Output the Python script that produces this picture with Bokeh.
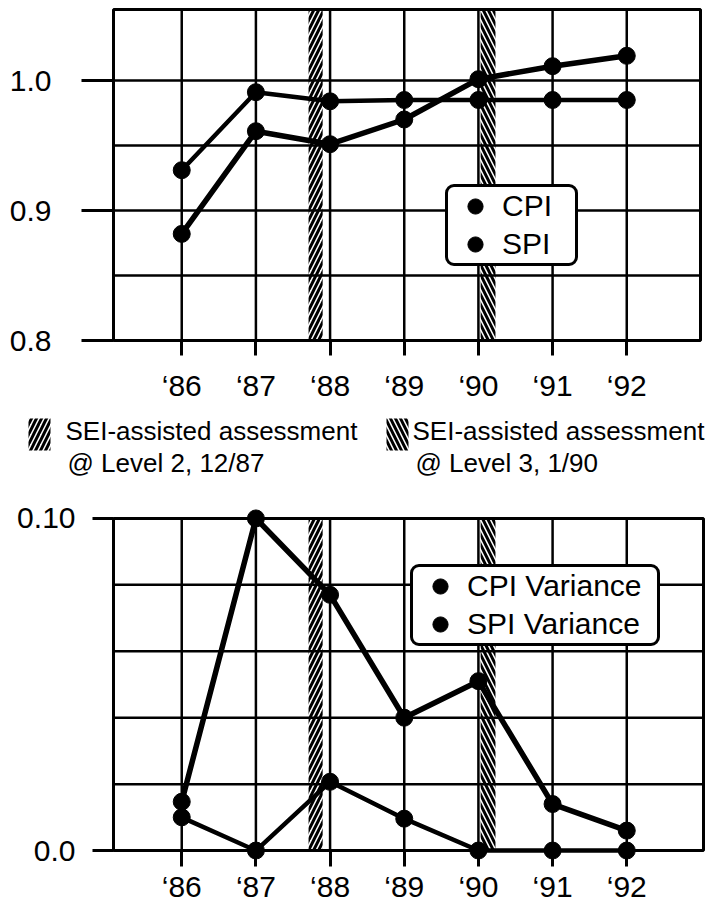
from bokeh.plotting import figure
from bokeh.models import Range1d, FixedTicker, Legend, LegendItem
from bokeh.layouts import column, row
from bokeh.embed import file_html
from bokeh.resources import INLINE
from bokeh.core.properties import value

# ---------------- data ----------------
years = [86, 87, 88, 89, 90, 91, 92]
year_labels = ["\u201886", "\u201887", "\u201888", "\u201889", "\u201890", "\u201891", "\u201892"]

cpi = [0.882, 0.961, 0.951, 0.970, 1.001, 1.011, 1.019]
spi = [0.931, 0.991, 0.984, 0.985, 0.985, 0.985, 0.985]

cpi_var = [0.0147, 0.100, 0.077, 0.040, 0.051, 0.014, 0.006]
spi_var = [0.010, 0.0, 0.0207, 0.0096, 0.0, 0.0, 0.0]

band_start = [87.71, 90.03]
band_end = [87.90, 90.23]
band_hatch = ["/", "\\"]
band_text_1 = ["SEI-assisted assessment", "SEI-assisted assessment"]
band_text_2 = ["@ Level 2, 12/87", "@ Level 3, 1/90"]

top_y_ticks = [0.8, 0.9, 1.0]
top_y_labels = ["0.8", "0.9", "1.0"]
top_grid_y = [0.85, 0.9, 0.95, 1.0]

bot_y_ticks = [0.0, 0.10]
bot_y_labels = ["0.0", "0.10"]
bot_grid_y = [0.02, 0.04, 0.06, 0.08]

FONT = "Liberation Sans"
W = 720
BORDER_L, BORDER_R = 109, 13          # shared by both charts (frames are aligned)
PX_PER_YEAR = 74.17
X_VIS_LO = 85.08
HATCH = dict(fill_color=None, line_color=None, hatch_color="black",
             hatch_weight=3, hatch_scale=10)


def set_if(obj, **kw):
    props = obj.properties()
    for k, v in kw.items():
        if k in props:
            setattr(obj, k, v)


def style_legend(lg, label_w):
    lg.label_text_font = FONT
    lg.label_text_font_size = "30px"
    lg.label_text_color = "black"
    lg.glyph_width = 54
    lg.glyph_height = 38
    lg.spacing = 0
    lg.padding = 0
    lg.margin = 0
    lg.label_standoff = 0
    lg.label_width = label_w
    lg.border_line_color = "black"
    lg.border_line_alpha = 1.0
    lg.border_line_width = 3
    lg.background_fill_color = "white"
    lg.background_fill_alpha = 1.0
    set_if(lg, border_radius=9)


def make_chart(height, b_top, b_bot, vis_w, vis_y, px_per_unit, pads,
               y_ticks, y_labels, grid_y, xt, yt, series, widths):
    """vis_w: visible frame width in px; pads: (left, right, top, bottom) px
    xt / yt: (tick_in, tick_out, standoff) for x and y axes."""
    pl, pr, pt, pb = pads
    vis_x = (X_VIS_LO, X_VIS_LO + vis_w / PX_PER_YEAR)
    real_w = W - BORDER_L - BORDER_R
    x0 = X_VIS_LO - pl / PX_PER_YEAR
    p = figure(width=W, height=height, output_backend="svg", toolbar_location=None,
               x_range=Range1d(x0, x0 + real_w / PX_PER_YEAR),
               y_range=Range1d(vis_y[0] - pb / px_per_unit, vis_y[1] + pt / px_per_unit),
               min_border_left=BORDER_L, min_border_right=BORDER_R,
               min_border_top=b_top, min_border_bottom=b_bot)
    p.outline_line_color = None
    p.background_fill_color = "white"
    p.border_fill_color = "white"
    p.grid.visible = False

    ax = p.xaxis[0]
    ax.ticker = FixedTicker(ticks=years)
    ax.major_label_overrides = {y: l for y, l in zip(years, year_labels)}
    ay = p.yaxis[0]
    ay.ticker = FixedTicker(ticks=y_ticks)
    ay.major_label_overrides = {t: l for t, l in zip(y_ticks, y_labels)}
    for a, (t_in, t_out, st) in ((ax, xt), (ay, yt)):
        a.axis_line_color = None
        a.major_tick_in = t_in
        a.major_tick_out = t_out
        a.major_tick_line_width = 3
        a.major_tick_line_color = "black"
        a.minor_tick_line_color = None
        a.major_label_standoff = st
        a.major_label_text_font = FONT
        a.major_label_text_font_size = "30px"
        a.major_label_text_color = "black"

    # assessment bands
    p.quad(left=band_start, right=band_end, bottom=vis_y[0], top=vis_y[1],
           hatch_pattern=band_hatch, **HATCH)
    # grid and frame
    p.segment(x0=years, y0=vis_y[0], x1=years, y1=vis_y[1], line_color="black", line_width=2.5)
    p.segment(x0=vis_x[0], y0=grid_y, x1=vis_x[1], y1=grid_y, line_color="black", line_width=2.5)
    p.quad(left=vis_x[0], right=vis_x[1], bottom=vis_y[0], top=vis_y[1],
           fill_color=None, line_color="black", line_width=3)

    scatters = []
    for ys, lw in zip(series, widths):
        p.line(years, ys, line_color="black", line_width=lw)
        scatters.append(p.scatter(years, ys, size=17, color="black"))
    return p, scatters


# ---------------- top chart ----------------
H1 = 404
p1, (s_cpi, s_spi) = make_chart(
    H1, 5, 60, 587, (0.8, 0.8 + 331 / 1300.0), 1300.0, (4, 7, 4, 4),
    top_y_ticks, top_y_labels, top_grid_y,
    (4, 11, 13), (4, 28, 30), [cpi, spi], [5.5, 4.5])
lg1 = Legend(items=[LegendItem(label="CPI", renderers=[s_cpi]),
                    LegendItem(label="SPI", renderers=[s_spi])],
             location=(336, 78))
style_legend(lg1, 73)
p1.add_layout(lg1)

# ---------------- middle: band key ----------------
H2 = 96
p2 = figure(width=W, height=H2, output_backend="svg", toolbar_location=None,
            x_range=Range1d(0, W), y_range=Range1d(H2, 0),
            x_axis_type=None, y_axis_type=None,
            min_border=0, min_border_left=0, min_border_right=0,
            min_border_top=0, min_border_bottom=0)
p2.outline_line_color = None
p2.grid.visible = False
key_icon_x0 = [28, 386]
key_icon_x1 = [50, 408]
key_text_x = [65, 412]
key_text2_x = [67, 415]
p2.quad(left=key_icon_x0, right=key_icon_x1, bottom=[46, 46], top=[14, 14],
        hatch_pattern=band_hatch, **HATCH)
p2.text(x=key_text_x, y=[26, 26], text=band_text_1, text_font=value(FONT),
        text_font_size="26px", text_baseline="middle", text_align="left", text_color="black")
p2.text(x=key_text2_x, y=[58, 58], text=band_text_2, text_font=value(FONT),
        text_font_size="26px", text_baseline="middle", text_align="left", text_color="black")

# ---------------- bottom chart ----------------
H3 = 405
p3, (s_cv, s_sv) = make_chart(
    H3, 7, 44, 590, (0.0, 0.10), 3340.0, (4, 4, 11, 9),
    bot_y_ticks, bot_y_labels, bot_grid_y,
    (9, 7, 3), (4, 17, 17), [cpi_var, spi_var], [5.5, 4.5])
lg3 = Legend(items=[LegendItem(label="CPI Variance", renderers=[s_cv]),
                    LegendItem(label="SPI Variance", renderers=[s_sv])],
             location=(301, 213))
style_legend(lg3, 190)
p3.add_layout(lg3)

layout = column(p1, row(p2), p3, spacing=0)
open("out.html", "w").write(file_html(layout, INLINE))
